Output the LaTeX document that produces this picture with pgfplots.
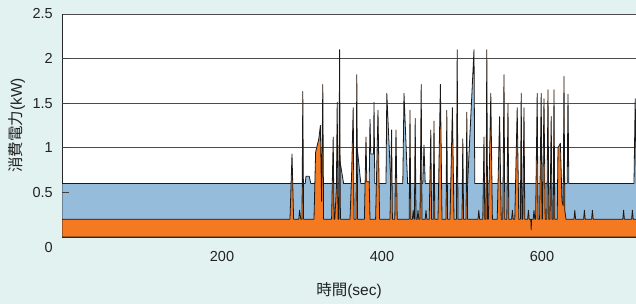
\documentclass[border=0pt]{standalone}
\usepackage{pgfplots}
\pgfplotsset{compat=1.18}
\usepackage{fontspec}
\setmainfont{Liberation Sans}
\newfontfamily\jp{Noto Sans CJK JP}
\definecolor{bgc}{HTML}{E1F2F0}
\definecolor{bluef}{HTML}{96BCDB}
\definecolor{orangef}{HTML}{F47920}
\definecolor{txt}{HTML}{222222}
\newcommand{\fs}{\fontsize{14.5}{16}\selectfont}
\newcommand{\fl}{\fontsize{15.5}{17}\selectfont}
\begin{document}
\begin{tikzpicture}[x=1pt,y=1pt]
\fill[bgc] (0,0) rectangle (636,304);
\useasboundingbox (0,0) rectangle (636,304);
\begin{axis}[
  name=ax,
  at={(62pt,67pt)}, anchor=south west,
  scale only axis, width=574pt, height=223pt,
  xmin=0, xmax=717.5, ymin=0, ymax=2.5,
  axis x line*=bottom, axis y line*=left,
  axis line style={black!85, line width=0.7pt},
  axis background/.style={fill=white},
  xtick={200,400,600}, ytick={0.5,1,1.5,2,2.5},
  yticklabels={0.5,1,1.5,2,2.5},
  ymajorgrids, grid style={black!70, line width=0.7pt},
  major tick length=7pt, tick align=inside,
  x tick style={draw=none},
  y tick style={draw=none},
  tick label style={font=\fs, text=txt},
  /pgf/number format/assume math mode=true,
  xticklabel style={anchor=center, yshift=-20pt},
  yticklabel style={anchor=east, inner sep=0pt, xshift=-9pt},
  xlabel={{\jp 時間}(sec)}, ylabel={{\jp 消費電力}(kW)},
  label style={font=\fl, text=txt},
  xlabel style={at={(axis description cs:0.5,-0.2422)}, anchor=center},
  ylabel style={at={(axis description cs:-0.0784,0.5)}, anchor=center},
]
\addplot[fill=bluef, draw=black!90, line width=0.8pt, line join=round] coordinates {
(0,0.6)(304,0.6)(305,0.68)(309,0.68)(311,0.6)
(346.5,0.6)(347.5,0.85)(352,0.6)
(368,0.6)(369,1.0)(373.5,0.6)
(384,0.6)(385,1.32)(386,0.93)(389.5,0.93)(390,1.51)(391,0.6)
(405,0.6)(406,1.61)(411,0.6)
(426,0.6)(427.5,1.61)(432,0.6)
(451,0.6)(452.5,1.03)(454,0.6)
(507,0.6)(515,2.1)(516,0.6)
(631.5,0.6)(632.5,1.6)(633.5,0.6)
(715,0.6)(716.5,1.55)(718,0.6)(720,0.6)
} \closedcycle;
\addplot[fill=orangef, draw=black!90, line width=0.8pt, line join=round] coordinates {
(0,0.2)
(285,0.2)(287.5,0.93)(289.5,0.2)
(296,0.2)(297,0.3)(298.5,0.2)
(300,0.2)(301,1.63)(302,0.2)
(315,0.2)(317,0.95)(321,1.1)(323,1.25)(324.5,0.4)(326,1.71)(327,0.2)
(337,0.2)(339,1.12)(340,0.2)
(341,0.2)(343,0.55)(344,1.51)(345,0.2)
(346,0.2)(347,2.1)(348,0.2)
(360,0.2)(362,0.7)(364,1.45)(365,0.2)
(367.5,0.2)(368.5,1.82)(369.5,0.2)
(378,0.2)(380,1.12)(381,0.62)(384,0.62)(385,0.2)
(392,0.2)(395,1.42)(397,0.2)
(410,0.2)(412,1.2)(413,0.2)
(416,0.2)(417.5,1.2)(419,0.2)
(434,0.2)(435,1.42)(436,0.2)
(438,0.2)(439,0.3)(440,0.2)
(440.5,0.2)(441.5,1.33)(442.5,0.2)
(444,0.2)(445,0.3)(446,0.2)
(447.5,0.2)(449,1.71)(450,0.2)
(454,0.2)(455,0.3)(456,0.2)
(459,0.2)(461,1.2)(462,0.2)
(464,0.2)(465,1.3)(466,0.2)
(470,0.2)(473,1.71)(475,0.2)
(480,0.2)(481,1.42)(482,0.2)
(485,0.2)(488,1.45)(490,0.2)
(493,0.2)(494,2.1)(495,0.2)
(500,0.2)(501,1.1)(502,0.2)
(505,0.2)(506,1.4)(507,0.2)
(520,0.2)(521,0.3)(522,0.2)
(526,0.2)(527.5,1.12)(528.5,0.2)
(530,0.2)(531,2.1)(532,0.2)
(533,0.2)(536,1.61)(538,0.2)
(544,0.2)(547,1.35)(549,0.2)
(551,0.2)(552.5,1.82)(553.5,0.2)
(556,0.2)(557.5,1.5)(558.5,0.2)
(562,0.2)(563,0.3)(564,0.2)
(566,0.2)(569,1.45)(571,0.2)
(573,0.2)(574,1.61)(575,0.2)
(576,0.2)(577.5,1.45)(578.5,0.2)
(582,0.2)(583,0.3)(584,0.2)
(586,0.2)(586.5,0.08)(587,0.2)
(589,0.2)(590,0.3)(591,0.2)
(592,0.2)(594,1.61)(595,0.2)
(597,0.2)(599,1.61)(600,0.2)
(600.5,0.2)(602.5,1.55)(604,0.2)
(606,0.2)(607.5,1.65)(608.5,0.2)
(610,0.2)(611.5,1.35)(612.5,0.2)
(614,0.2)(615,1.65)(616,0.2)
(619,0.2)(620,1.0)(623,1.05)(625,0.4)(626.5,0.35)(627.5,1.8)(628.5,0.3)(630,0.2)
(640,0.2)(641,0.3)(642,0.2)
(652,0.2)(653,0.3)(654,0.2)
(662,0.2)(663,0.3)(664,0.2)
(701,0.2)(702,0.3)(703,0.2)
(712,0.2)(713,0.3)(714,0.2)
(720,0.2)
} \closedcycle;
\end{axis}
\foreach \v in {0.5,1,1.5,2} \draw[black!75, line width=0.8pt] ([yshift=\v*89.2pt]ax.south west) -- ++(7pt,0);
\node[anchor=east, inner sep=0pt, font=\fs, text=txt, xshift=-9pt, yshift=-11pt] at (ax.south west) {0};
\end{tikzpicture}
\end{document}
